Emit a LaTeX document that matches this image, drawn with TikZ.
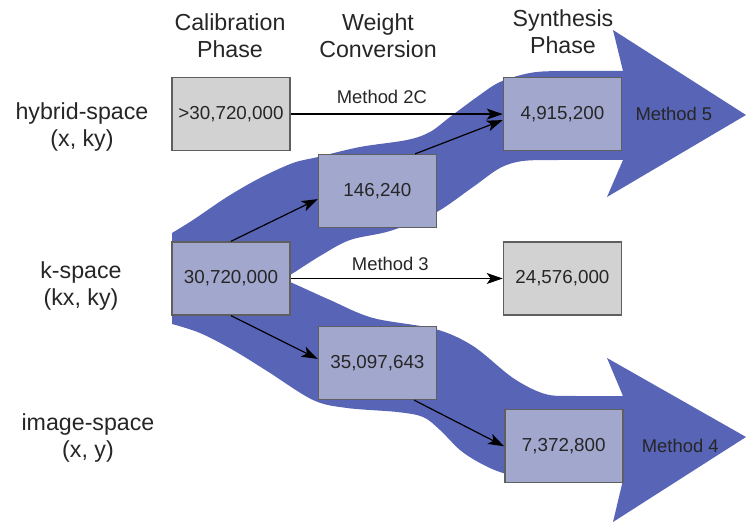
\documentclass[tikz,border=0pt]{standalone}
\usepackage{fontspec}
\setmainfont{Liberation Sans}
\usepackage{tikz}
\usetikzlibrary{arrows.meta,positioning}

\definecolor{bandblue}{RGB}{88,100,181}
\definecolor{boxblue}{RGB}{162,167,206}
\definecolor{boxgray}{RGB}{210,210,210}
\definecolor{edgegray}{RGB}{95,95,95}

\begin{document}
\begin{tikzpicture}[
  x=0.5pt, y=-0.5pt,
  font=\fontsize{9.4}{11}\selectfont,
  box/.style={draw=edgegray, line width=0.7pt, fill=boxblue, minimum width=59pt, minimum height=36.5pt, inner sep=0pt, text=black!85},
  gbox/.style={box, fill=boxgray},
  head/.style={align=center, font=\fontsize{11.6}{13.5}\selectfont, text=black!85},
  meth/.style={font=\fontsize{9.2}{11}\selectfont, inner sep=0pt, text=black!85},
  arr/.style={-{Stealth[length=8pt, width=5.5pt, inset=2pt]}, line width=0.6pt},
  band/.style={fill=bandblue}
]
\useasboundingbox (0,0) rectangle (746,522);

% --- Flow bands ---
\fill[band]
  plot[smooth, tension=.55] coordinates {(172,233) (193,220) (227,197) (260,178) (293,163) (318,157) (360,147) (407,140) (430,132) (450,117) (477,97) (500,82) (530,73) (560,71) (623,71)}
  -- (613,30) -- (746,115) -- (607,197) -- (623,160)
  -- plot[smooth, tension=.55] coordinates {(623,160) (560,160) (523,161) (500,168) (473,187) (435,213) (390,231) (350,240) (320,256) (290,275) (280,279)}
  -- plot[smooth, tension=.55] coordinates {(280,279) (290,282) (330,300) (373,318) (435,329) (473,346) (513,378) (545,394) (575,396) (623,396)}
  -- (607,358) -- (746,437) -- (613,522) -- (623,480)
  -- plot[smooth, tension=.55] coordinates {(623,481) (540,481) (503,473) (480,463) (460,450) (440,430) (423,417) (397,412) (347,408) (313,400) (267,371) (233,350) (200,333) (172,324)}
  -- cycle;

% --- Phases and spaces ---
\node[head] (calib) at (230,36) {Calibration\\Phase};
\node[head] (weight) at (378,36) {Weight\\Conversion};
\node[head] (synth) at (563,32) {Synthesis\\Phase};

\node[head] (hybsp) at (82,127.5) {hybrid-space\\(x, ky)};
\node[head] (ksp) at (81,286.5) {k-space\\(kx, ky)};
\node[head] (imgsp) at (88,438.5) {image-space\\(x, y)};

% --- Weight counts ---
\node[box] (kcal) at (231,278.5) {30,720,000};
\node[gbox, above=45pt of kcal] (hcal) {>30,720,000};
\node[box, above right=6.5pt and 13.5pt of kcal] (hconv) {146,240};
\node[box, below right=5pt and 13.5pt of kcal] (iconv) {35,097,643};
\node[box, right=106pt of hcal] (hsyn) {4,915,200};
\node[gbox, right=106pt of kcal] (ksyn) {24,576,000};
\node[box, below right=4.5pt and 33.5pt of iconv] (isyn) {7,372,800};

\node[meth, right=6.5pt of hsyn] (m5) {Method 5};
\node[meth, right=9pt of isyn] (m4) {Method 4};

\draw[arr] (hcal) -- node[meth, above=5pt, pos=.43] {Method 2C} (hsyn);
\draw[arr] ([xshift=-11pt]hconv.north east) -- ([yshift=-3pt]hsyn.west);
\draw[arr] (kcal.north) -- ([yshift=-4pt]hconv.west);
\draw[arr] (kcal) -- node[meth, above=3.5pt, pos=.47] {Method 3} (ksyn);
\draw[arr] (kcal.south) -- ([yshift=2pt]iconv.west);
\draw[arr] ([xshift=-11.5pt]iconv.south east) -- (isyn.west);

\end{tikzpicture}
\end{document}
